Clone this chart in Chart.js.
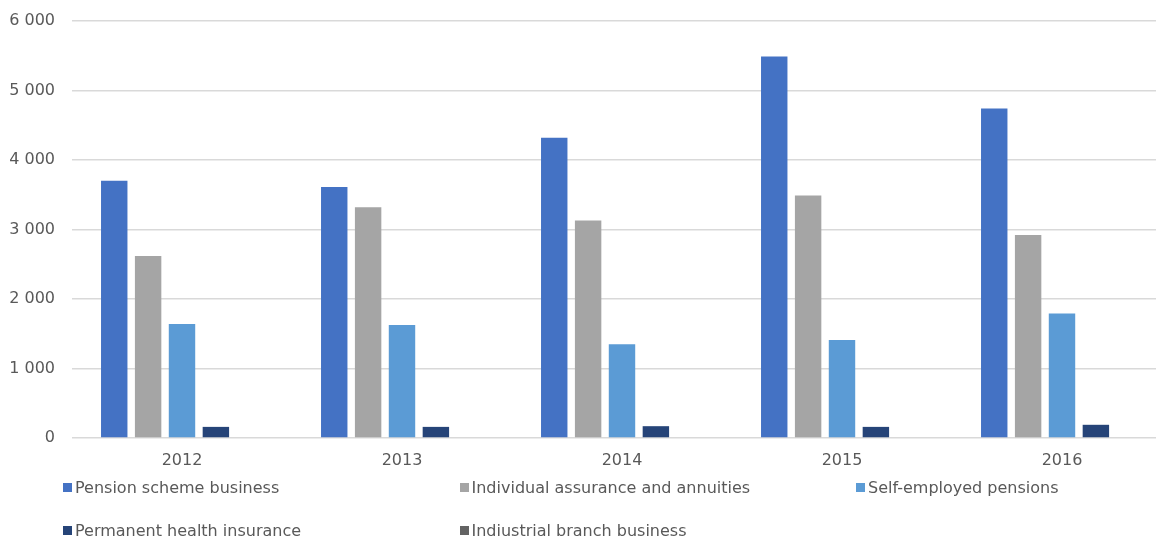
<!DOCTYPE html>
<html>
<head>
<meta charset="utf-8">
<script src="https://cdn.jsdelivr.net/npm/chart.js@4/dist/chart.umd.min.js"></script>
<style>
  html, body { margin: 0; padding: 0; background: #fff; overflow: hidden; }
  #wrap { position: relative; width: 1156px; height: 537px; overflow: hidden; }
  #box { position: absolute; left: 0; top: 0; width: 1172px; height: 537px; }
  #legend {
    position: absolute; left: 63px; top: 476px;
    display: grid; grid-template-columns: repeat(3, 396.5px); grid-auto-rows: 42.5px;
    font-family: "DejaVu Sans", Verdana, sans-serif; font-size: 16px; color: #595959;
  }
  .item { display: flex; align-items: center; height: 23px; white-space: nowrap; }
  .sw { width: 9px; height: 9px; margin-right: 3px; flex: none; }
</style>
</head>
<body>
<div id="wrap">
  <div id="box"><canvas id="c"></canvas></div>
  <div id="legend"></div>
</div>
<script>
const years = ['2012', '2013', '2014', '2015', '2016'];
const seriesNames = [
  'Pension scheme business',
  'Individual assurance and annuities',
  'Self-employed pensions',
  'Permanent health insurance',
  'Indiustrial branch business'
];
const pensionScheme = [3700, 3610, 4320, 5490, 4740];
const individualAssurance = [2620, 3320, 3130, 3490, 2920];
const selfEmployed = [1640, 1625, 1350, 1410, 1790];
const permanentHealth = [160, 160, 170, 160, 190];
const industrialBranch = [0, 0, 0, 0, 0];
const yTicks = [0, 1000, 2000, 3000, 4000, 5000, 6000];

const colors = ['#4472C4', '#A5A5A5', '#5B9BD5', '#264478', '#636363'];
const values = [pensionScheme, individualAssurance, selfEmployed, permanentHealth, industrialBranch];

const fmt = v => String(v).replace(/\B(?=(\d{3})+(?!\d))/g, ' ');
const font = { family: '"DejaVu Sans", Verdana, sans-serif', size: 16 };

const chart = new Chart(document.getElementById('c'), {
  type: 'bar',
  data: {
    labels: years,
    datasets: values.map((d, i) => ({
      label: seriesNames[i],
      data: d,
      backgroundColor: colors[i],
      borderWidth: 0,
      categoryPercentage: 0.77,
      barPercentage: 0.78
    }))
  },
  options: {
    responsive: true,
    maintainAspectRatio: false,
    animation: false,
    layout: { padding: { top: 21, right: 0, bottom: 0, left: 0 } },
    plugins: { legend: { display: false }, tooltip: { enabled: false } },
    scales: {
      x: {
        grid: { display: false, drawTicks: false },
        border: { display: false },
        ticks: { color: '#595959', font, padding: 13 },
        afterFit: s => { s.height = 99; }
      },
      y: {
        min: 0, max: 6000,
        afterBuildTicks: s => { s.ticks = yTicks.map(v => ({ value: v })); },
        grid: { color: '#d9d9d9', lineWidth: 1.5, drawTicks: false },
        border: { display: false },
        ticks: { color: '#595959', font, padding: 17, callback: v => fmt(v) },
        afterFit: s => { s.width = 72; s.paddingTop = 0; s.paddingBottom = 0; }
      }
    }
  }
});

// HTML legend built from the chart's datasets
const legend = document.getElementById('legend');
chart.data.datasets.forEach(ds => {
  const item = document.createElement('div');
  item.className = 'item';
  const sw = document.createElement('span');
  sw.className = 'sw';
  sw.style.background = ds.backgroundColor;
  const txt = document.createElement('span');
  txt.textContent = ds.label;
  item.appendChild(sw);
  item.appendChild(txt);
  legend.appendChild(item);
});
</script>
</body>
</html>
